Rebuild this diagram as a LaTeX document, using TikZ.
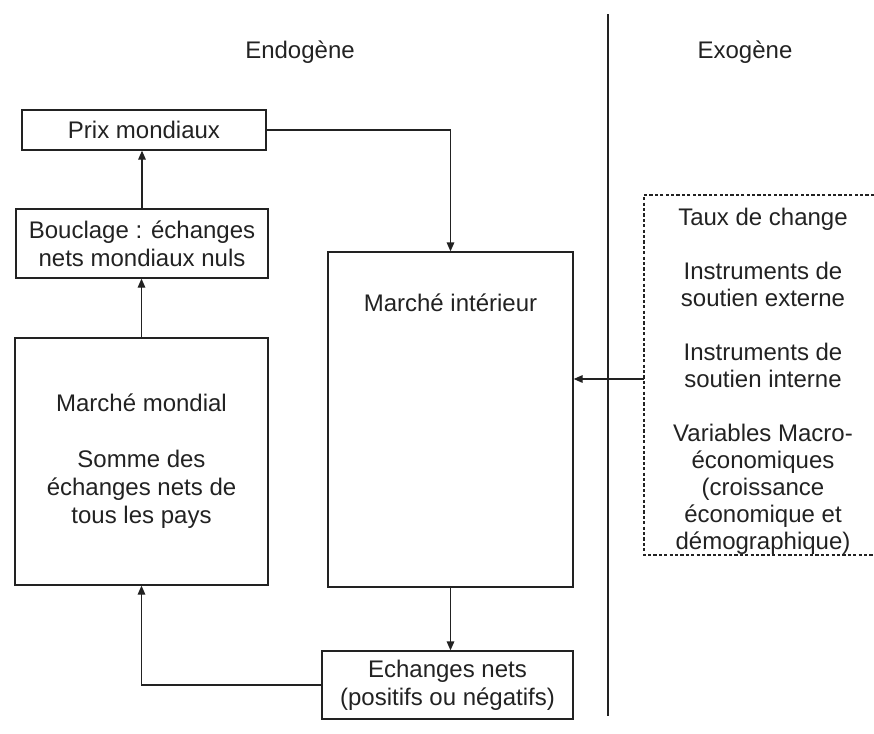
\documentclass[tikz,border=0pt]{standalone}
\usepackage{fontspec}
\setmainfont{Liberation Sans}
\usetikzlibrary{arrows.meta}
\definecolor{ink}{HTML}{222222}
\begin{document}
\begin{tikzpicture}[x=0.5pt,y=-0.5pt,
  every node/.style={text=ink, font=\fontsize{12}{14}\selectfont},
  box/.style={draw=ink, line width=0.65pt, align=center, inner sep=0pt},
  lbl/.style={align=center, inner sep=0pt},
  arr/.style={draw=ink, line width=0.65pt, -{Triangle[length=4.5pt,width=3.8pt]}},
  sepline/.style={draw=ink, line width=0.75pt},
  frame/.style={draw=ink, line width=0.6pt, dash pattern=on 1.6pt off 1.1pt}]
\useasboundingbox (0,0) rectangle (874,734);
% headings
\node[lbl] (endo) at (300,52) {Endogène};
\node[lbl] (exo) at (745,52) {Exogène};
% separator
\coordinate (sepT) at (608,14);
\coordinate (sepB) at (608,716);
\draw[sepline] (sepT) -- (sepB);
% endogenous boxes
\node[box, minimum width=122pt, minimum height=20pt] (prix) at (144,130) {Prix mondiaux};
\node[box, minimum width=126pt, minimum height=34.5pt] (boucl) at (142,243.5) {Bouclage : échanges\\nets mondiaux nuls};
\node[box, minimum width=126.5pt, minimum height=123.5pt] (mondial) at (141.5,461.5) {Marché mondial\\[14pt]Somme des\\échanges nets de\\tous les pays};
\node[box, minimum width=122.5pt, minimum height=167.5pt] (interieur) at (450.5,419.5) {};
\node[lbl] (intlabel) at (450.5,303) {Marché intérieur};
\node[box, minimum width=125.5pt, minimum height=34pt] (echanges) at (447.5,685) {Echanges nets\\(positifs ou négatifs)};
% exogenous frame
\coordinate (fTR) at (874,195);
\coordinate (fTL) at (644,195);
\coordinate (fBL) at (644,555);
\coordinate (fBR) at (874,555);
\coordinate (fW) at (644,379);
\draw[frame] (fTR) -- (fTL) -- (fBL) -- (fBR);
\node[lbl, font=\fontsize{12}{13.5}\selectfont] (exotext) at (763,381) {Taux de change\\[13.5pt]Instruments de\\soutien externe\\[13.5pt]Instruments de\\soutien interne\\[13.5pt]Variables Macro-\\économiques\\(croissance\\économique et\\démographique)};
% connectors
\draw[arr] (boucl.north) -- (boucl.north |- prix.south);
\draw[arr] (mondial.north) -- (mondial.north |- boucl.south);
\draw[arr] (prix.east) -| (interieur.north);
\draw[arr] (interieur.south) -- (interieur.south |- echanges.north);
\draw[arr] (echanges.west) -| (mondial.south);
\draw[arr] (fW) -- (fW -| interieur.east);
\end{tikzpicture}
\end{document}
